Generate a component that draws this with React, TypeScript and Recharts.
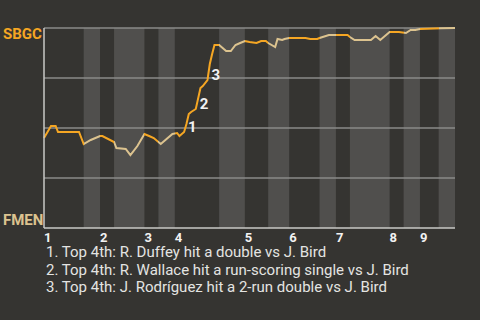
import React from "react";
import {
    LineChart,
    Line,
    XAxis,
    YAxis,
    ReferenceArea,
    ReferenceLine,
    LabelList
} from "recharts";

// play index and SBGC win probability after each play
const PLAYS = [
    0, 3, 5, 6, 15, 17, 20, 24, 25, 30, 31, 35, 37, 40, 43, 45, 47, 50, 55, 57,
    58, 60, 61, 62, 63, 65, 67, 68, 70, 71, 72, 73, 75, 78, 80, 82, 84, 86, 88,
    91, 93, 95, 96, 99, 100, 102, 103, 105, 112, 114, 117, 118, 122, 125, 130,
    131, 133, 140, 142, 144, 147, 148, 152, 155, 157, 159, 161, 170, 176
];
const WIN_PROB = [
    0.45, 0.51, 0.51, 0.48, 0.48, 0.42, 0.44, 0.46, 0.46, 0.43, 0.4, 0.395,
    0.365, 0.41, 0.47, 0.46, 0.45, 0.42, 0.47, 0.475, 0.46, 0.48, 0.52, 0.57,
    0.58, 0.595, 0.7, 0.71, 0.74, 0.82, 0.87, 0.915, 0.915, 0.885, 0.885, 0.915,
    0.925, 0.935, 0.93, 0.925, 0.935, 0.935, 0.925, 0.905, 0.945, 0.94, 0.945,
    0.95, 0.95, 0.945, 0.945, 0.95, 0.965, 0.965, 0.965, 0.955, 0.94, 0.94, 0.96,
    0.94, 0.97, 0.98, 0.98, 0.975, 0.99, 0.99, 0.995, 0.9985, 1
];

// key plays, numbered on the line and explained below the chart
const EVENT_PLAYS = [60, 65, 70];
const EVENT_TAGS = ["1", "2", "3"];
const FOOTNOTES = [
    "1. Top 4th: R. Duffey hit a double vs J. Bird",
    "2. Top 4th: R. Wallace hit a run-scoring single vs J. Bird",
    "3. Top 4th: J. Rodríguez hit a 2-run double vs J. Bird"
];

// first play of every half inning (top, bottom, top, ...)
const HALF_STARTS = [0, 17, 24, 30, 43, 49, 56, 75, 86, 96, 105, 118, 125, 131, 148, 154, 161, 169];
const LAST_PLAY = 176;
const INNINGS = ["1", "2", "3", "4", "5", "6", "7", "8", "9"];

const AWAY = "SBGC";
const HOME = "FMEN";

const BG = "#353431";
const BAND = "#504f4d";
const AWAY_COLOR = "#f5a623";
const HOME_COLOR = "#dcc38f";
const GRID = "#8a8a88";
const AXIS = "#c8c8c6";

const data = PLAYS.map((play, i) => {
    const e = EVENT_PLAYS.indexOf(play);
    return { play, wp: WIN_PROB[i], event: e >= 0 ? EVENT_TAGS[e] : undefined };
});

const halves = HALF_STARTS.map((start, i) => ({
    start,
    end: HALF_STARTS[i + 1] ?? LAST_PLAY,
    top: i % 2 === 0
}));

const inningTicks = halves.filter((h) => h.top).map((h) => h.start);

const InningTick = ({ x, y, payload }: any) => (
    <text x={x} y={y} dy={13.5} textAnchor="start" fontSize={13} fontWeight={700} fill="#f2f2f2">
        {INNINGS[inningTicks.indexOf(payload.value)]}
    </text>
);

const TeamTick = ({ y, payload }: any) => {
    const isAway = payload.value === 1;
    return (
        <text
            x={3}
            y={isAway ? y + 10.5 : y - 3}
            textAnchor="start"
            fontSize={15}
            fontWeight={700}
            fill={isAway ? AWAY_COLOR : HOME_COLOR}
        >
            {isAway ? AWAY : HOME}
        </text>
    );
};

const EventTag = ({ x, y, value }: any) => {
    if (!value) return null;
    return (
        <text x={x + 4} y={y - 5} dominantBaseline="central" fontSize={15} fontWeight={700} fill="#f2f2f2">
            {value}
        </text>
    );
};

export default function App() {
    return (
        <div
            style={{
                position: "absolute",
                top: 0,
                left: 0,
                width: 480,
                height: 320,
                background: BG,
                fontFamily: "Roboto, sans-serif"
            }}
        >
            <LineChart
                width={480}
                height={320}
                data={data}
                margin={{ top: 28, right: 25, left: 0, bottom: 72 }}
            >
                <defs>
                    <linearGradient id="batting" x1="0" y1="0" x2="1" y2="0">
                        {halves.flatMap((h, i) => [
                            <stop key={`a${i}`} offset={h.start / LAST_PLAY} stopColor={h.top ? AWAY_COLOR : HOME_COLOR} />,
                            <stop key={`b${i}`} offset={h.end / LAST_PLAY} stopColor={h.top ? AWAY_COLOR : HOME_COLOR} />
                        ])}
                    </linearGradient>
                </defs>
                <XAxis
                    dataKey="play"
                    type="number"
                    domain={[0, LAST_PLAY]}
                    ticks={inningTicks}
                    tick={<InningTick />}
                    tickLine={false}
                    tickSize={0}
                    tickMargin={0}
                    height={20}
                    axisLine={{ stroke: AXIS, strokeWidth: 1.5 }}
                />
                <YAxis
                    type="number"
                    domain={[0, 1]}
                    ticks={[0, 1]}
                    tick={<TeamTick />}
                    tickLine={false}
                    tickSize={0}
                    tickMargin={0}
                    width={44}
                    axisLine={{ stroke: AXIS, strokeWidth: 1.5 }}
                />
                {halves
                    .filter((h) => !h.top)
                    .map((h) => (
                        <ReferenceArea
                            key={h.start}
                            x1={h.start}
                            x2={h.end}
                            fill={BAND}
                            fillOpacity={1}
                            stroke="none"
                        />
                    ))}
                {[0.25, 0.5, 0.75, 1].map((v) => (
                    <ReferenceLine key={v} y={v} stroke={GRID} strokeWidth={1.5} />
                ))}
                <Line
                    type="linear"
                    dataKey="wp"
                    stroke="url(#batting)"
                    strokeWidth={2}
                    dot={false}
                    isAnimationActive={false}
                >
                    <LabelList dataKey="event" content={<EventTag />} />
                </Line>
            </LineChart>
            <div
                style={{
                    position: "absolute",
                    left: 46,
                    top: 244,
                    fontSize: 15,
                    lineHeight: "17.5px",
                    color: "#e4e4e2"
                }}
            >
                {FOOTNOTES.map((f) => (
                    <div key={f}>{f}</div>
                ))}
            </div>
        </div>
    );
}
